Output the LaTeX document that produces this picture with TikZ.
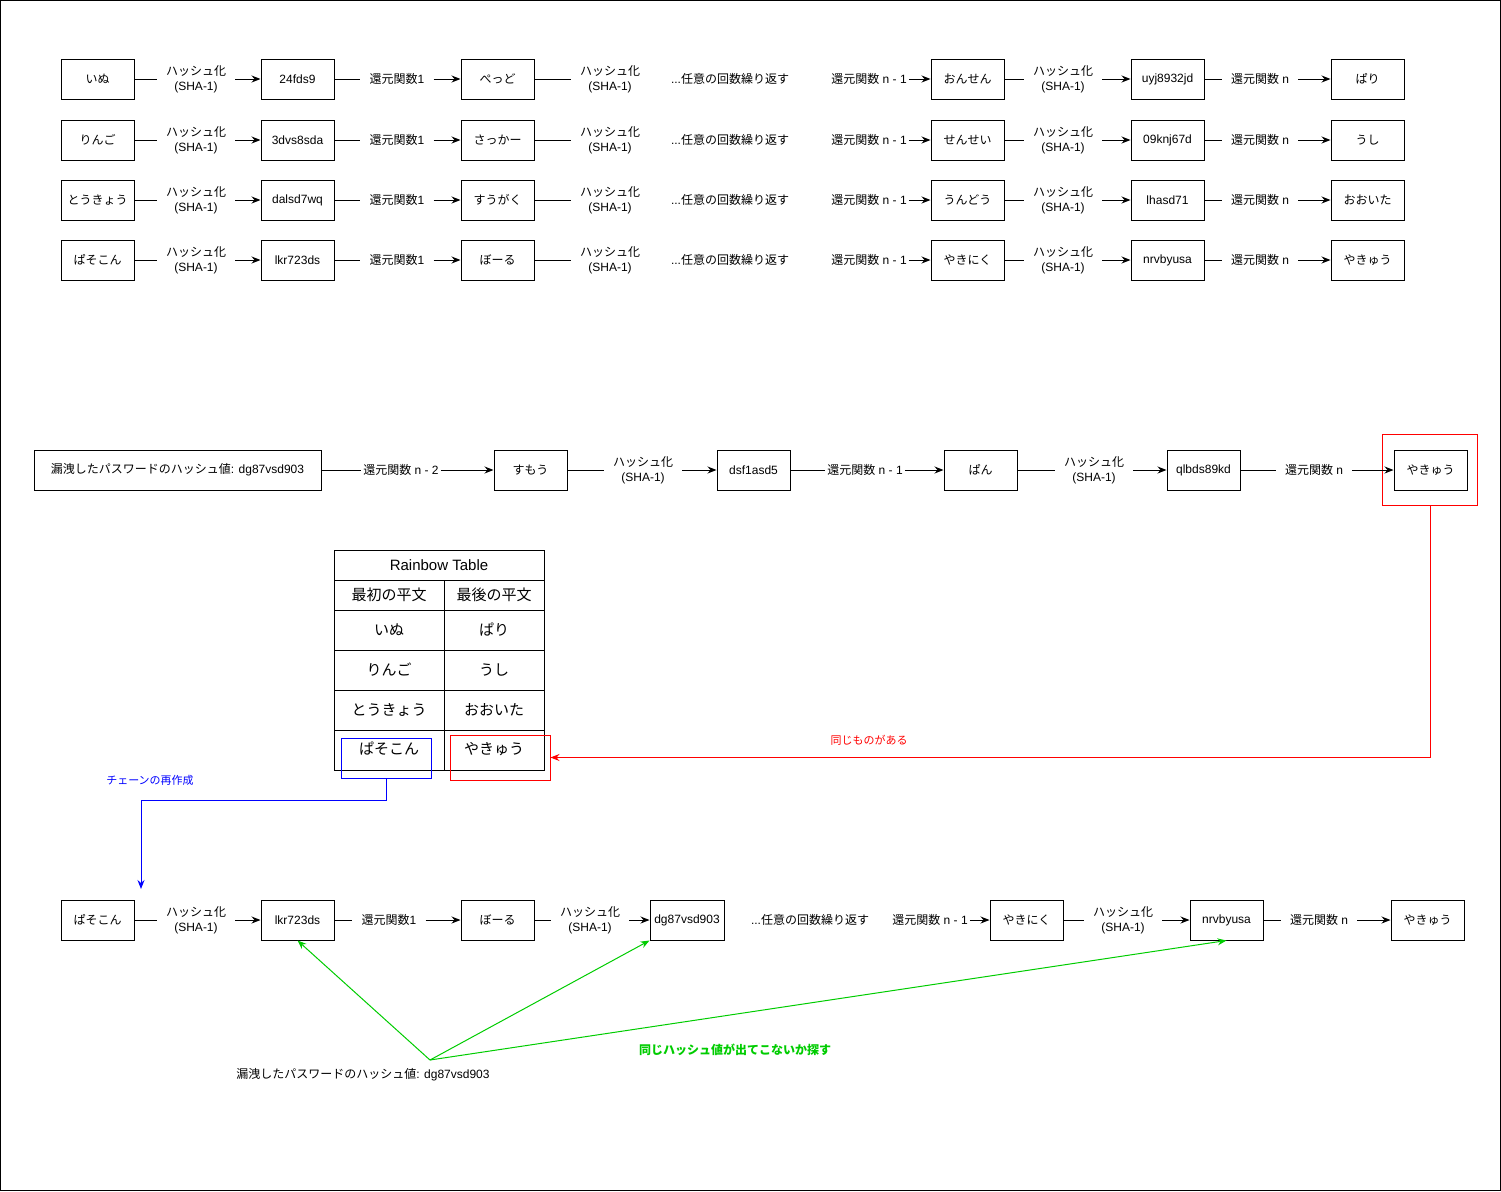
\documentclass[tikz,border=0pt]{standalone}
\usepackage{fontspec}
\setmainfont{Liberation Sans}
\newfontfamily\jp{Noto Sans CJK JP}
\usetikzlibrary{arrows.meta}
\newcommand\HS{{\jp ハッシュ化}\\(SHA-1)}
\newcommand\RF[1]{{\jp 還元関数}#1}
\newcommand\REP{...{\jp 任意の回数繰り返す}}
\definecolor{gr}{HTML}{00CC00}
\definecolor{rd}{HTML}{FF0000}
\definecolor{bl}{HTML}{0000FF}
\begin{document}
\begin{tikzpicture}[x=1pt,y=-1pt,
  font=\fontsize{12}{15}\selectfont,
  box/.style={draw, line width=1pt, minimum width=73pt, minimum height=40pt, inner sep=0pt, align=center},
  lbl/.style={fill=white, inner xsep=9pt, inner ysep=0pt, align=center},
  lbls/.style={fill=white, inner xsep=2pt, inner ysep=0pt, align=center},
  txt/.style={inner sep=0pt, align=center},
  cell/.style={draw, line width=1pt, inner sep=0pt, font=\fontsize{15}{18}\selectfont},
  conn/.style={line width=1pt},
  arr/.style={line width=1pt, -{Stealth[length=9pt,width=7pt,inset=3pt]}},
  redbox/.style={draw=red, line width=1pt, inner sep=0pt},
]
\useasboundingbox (0,0) rectangle (1501,1191);
\draw[line width=1pt] (0.5,0.5) rectangle (1500.5,1190.5);

% ---------- middle chain (red frame first) ----------
\node[inner sep=0pt, minimum width=94pt, minimum height=70pt] (m5r) at (1430,470) {};
\draw[red, line width=1pt] (m5r.north west) rectangle (m5r.south east);

% ---------- top four chains ----------
\foreach \yy/\A/\B/\C/\D/\E/\F/\r in {
  79/いぬ/24fds9/ぺっど/おんせん/uyj8932jd/ぱり/1,
  140/りんご/3dvs8sda/さっかー/せんせい/09knj67d/うし/2,
  200/とうきょう/dalsd7wq/すうがく/うんどう/lhasd71/おおいた/3,
  260/ぱそこん/lkr723ds/ぼーる/やきにく/nrvbyusa/やきゅう/4}{
  \node[box] (a\r) at (97.5,\yy) {\jp \A};
  \node[box] (b\r) at (297.5,\yy) {\B};
  \node[box] (c\r) at (497.5,\yy) {\jp \C};
  \node[box] (d\r) at (967.5,\yy) {\jp \D};
  \node[box] (e\r) at (1167.5,\yy) {\E};
  \node[box] (f\r) at (1367.5,\yy) {\jp \F};
  \node[lbl] (ha\r) at (196,\yy) {\HS};
  \node[lbl] (ra\r) at (397,\yy) {\RF{1}};
  \node[lbl] (hb\r) at (610,\yy) {\HS};
  \node[txt] (rep\r) at (730,\yy) {\REP};
  \node[lbls] (rb\r) at (869,\yy) {\RF{ n - 1}};
  \node[lbl] (hc\r) at (1063,\yy) {\HS};
  \node[lbl] (rc\r) at (1260,\yy) {\RF{ n}};
  \draw[conn] (a\r) -- (ha\r);
  \draw[arr] (ha\r) -- (b\r);
  \draw[conn] (b\r) -- (ra\r);
  \draw[arr] (ra\r) -- (c\r);
  \draw[conn] (c\r) -- (hb\r);
  \draw[arr] (rb\r) -- (d\r);
  \draw[conn] (d\r) -- (hc\r);
  \draw[arr] (hc\r) -- (e\r);
  \draw[conn] (e\r) -- (rc\r);
  \draw[arr] (rc\r) -- (f\r);
}

\node[box, minimum width=287pt] (m0) at (177.5,470) {{\jp 漏洩したパスワードのハッシュ値}: dg87vsd903};
\node[lbls] (mr0) at (401,470) {\RF{ n - 2}};
\node[box] (m1) at (530.5,470) {\jp すもう};
\node[lbl] (mh1) at (643,470) {\HS};
\node[box] (m2) at (753.5,470) {dsf1asd5};
\node[lbls] (mr2) at (865,470) {\RF{ n - 1}};
\node[box] (m3) at (980.5,470) {\jp ぱん};
\node[lbl] (mh3) at (1094,470) {\HS};
\node[box] (m4) at (1203.5,470) {qlbds89kd};
\node[lbl] (mr4) at (1314,470) {\RF{ n}};
\node[box] (m5) at (1430.5,470) {\jp やきゅう};
\draw[conn] (m0) -- (mr0);
\draw[arr] (mr0) -- (m1);
\draw[conn] (m1) -- (mh1);
\draw[arr] (mh1) -- (m2);
\draw[conn] (m2) -- (mr2);
\draw[arr] (mr2) -- (m3);
\draw[conn] (m3) -- (mh3);
\draw[arr] (mh3) -- (m4);
\draw[conn] (m4) -- (mr4);
\draw[arr] (mr4) -- (m5);

% ---------- rainbow table ----------
\node[cell, minimum width=210pt, minimum height=30pt] (tt) at (439,565) {Rainbow Table};
\node[cell, minimum width=110pt, minimum height=30pt] (th1) at (389,595) {\jp 最初の平文};
\node[cell, minimum width=100pt, minimum height=30pt] (th2) at (494,595) {\jp 最後の平文};
\foreach \yy/\L/\R/\k in {630/いぬ/ぱり/1, 670/りんご/うし/2, 710/とうきょう/おおいた/3}{
  \node[cell, minimum width=110pt, minimum height=40pt] (tl\k) at (389,\yy) {\jp \L};
  \node[cell, minimum width=100pt, minimum height=40pt] (tr\k) at (494,\yy) {\jp \R};
}
\node[cell, minimum width=110pt, minimum height=40pt, text depth=4pt] (tl4) at (389,750) {\jp ぱそこん};
\node[cell, minimum width=100pt, minimum height=40pt, text depth=4pt] (tr4) at (494,750) {\jp やきゅう};
\node[draw=bl, line width=1pt, minimum width=90pt, minimum height=40pt, inner sep=0pt] (tb) at (386,758) {};
\node[redbox, minimum width=100pt, minimum height=45pt] (tred) at (500,757.5) {};

% red connector
\draw[arr, red] (m5r.south) |- (tred.east);
\node[txt, text=red, font=\fontsize{11}{13}\selectfont\jp] (lsame) at (869,740) {同じものがある};

% blue connector
\coordinate (bt) at (141,889);
\draw[arr, bl] (tb.south) -- ++(0,22) -| (bt);
\node[txt, text=bl, font=\fontsize{11}{13}\selectfont\jp] (lre) at (150,780) {チェーンの再作成};

% ---------- bottom chain ----------
\node[box] (c1) at (97.5,920) {\jp ぱそこん};
\node[lbl] (ch1) at (196,920) {\HS};
\node[box] (c2) at (297.5,920) {lkr723ds};
\node[lbl] (cr1) at (389,920) {\RF{1}};
\node[box] (c3) at (497.5,920) {\jp ぼーる};
\node[lbl] (ch2) at (590,920) {\HS};
\node[box, minimum width=74pt] (c4) at (687,920) {dg87vsd903};
\node[txt] (crep) at (810,920) {\REP};
\node[lbls] (cr2) at (930,920) {\RF{ n - 1}};
\node[box] (c5) at (1026.5,920) {\jp やきにく};
\node[lbl] (ch3) at (1123,920) {\HS};
\node[box] (c6) at (1226.5,920) {nrvbyusa};
\node[lbl] (cr3) at (1319,920) {\RF{ n}};
\node[box] (c7) at (1427.5,920) {\jp やきゅう};
\draw[conn] (c1) -- (ch1);
\draw[arr] (ch1) -- (c2);
\draw[conn] (c2) -- (cr1);
\draw[arr] (cr1) -- (c3);
\draw[conn] (c3) -- (ch2);
\draw[arr] (ch2) -- (c4);
\draw[arr] (cr2) -- (c5);
\draw[conn] (c5) -- (ch3);
\draw[arr] (ch3) -- (c6);
\draw[conn] (c6) -- (cr3);
\draw[arr] (cr3) -- (c7);

% ---------- green search ----------
\node[txt] (leak) at (363,1075) {{\jp 漏洩したパスワードのハッシュ値}: dg87vsd903};
\coordinate (gs) at (430,1060);
\draw[arr, gr] (gs) -- (c2.south);
\draw[arr, gr] (gs) -- (c4.south west);
\draw[arr, gr] (gs) -- (c6.south);
\node[txt, text=gr, font=\fontsize{12}{14}\selectfont\jp\bfseries] (lsearch) at (735,1050) {同じハッシュ値が出てこないか探す};
\end{tikzpicture}
\end{document}
